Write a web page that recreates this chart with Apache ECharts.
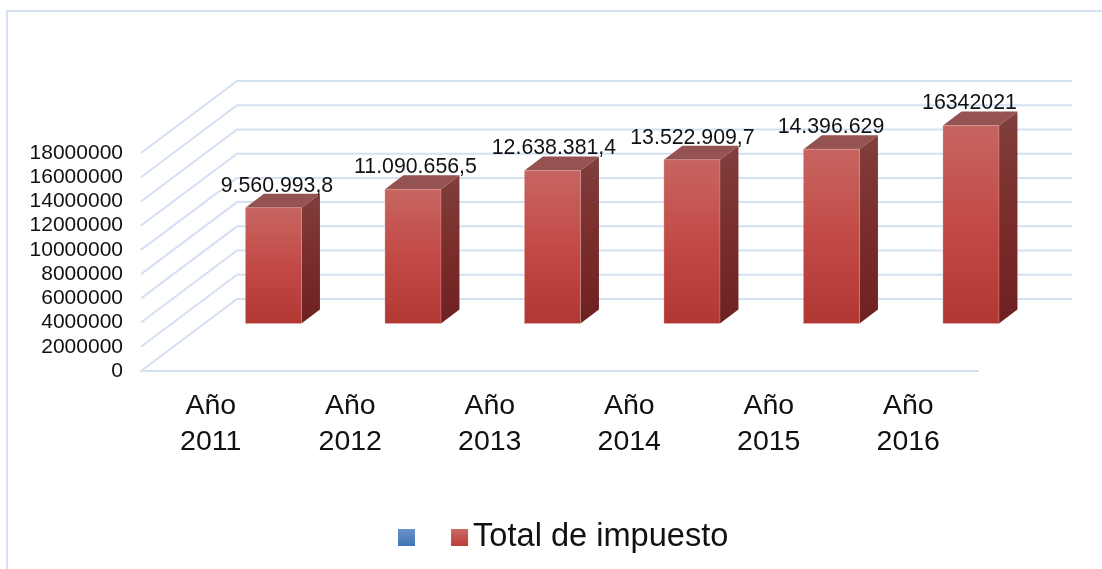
<!DOCTYPE html>
<html><head><meta charset="utf-8">
<style>html,body{margin:0;padding:0;background:#fff}#c{width:1102px;height:569px}</style>
<script src="https://cdn.jsdelivr.net/npm/echarts@6/dist/echarts.min.js"></script>
</head><body><div id="c"></div>
<script>
const categories = ['Año\n2011','Año\n2012','Año\n2013','Año\n2014','Año\n2015','Año\n2016'];
const values = [9560993.8, 11090656.5, 12638381.4, 13522909.7, 14396629, 16342021];
const valueLabels = ['9.560.993,8','11.090.656,5','12.638.381,4','13.522.909,7','14.396.629','16342021'];
const yTicks = [0,2000000,4000000,6000000,8000000,10000000,12000000,14000000,16000000,18000000];
const seriesName = 'Total de impuesto';

const FONT = '"Liberation Sans", Arial, sans-serif';
const GRID = '#d4e1f3';
const WALL_DX = 96, WALL_DY = 72, WALL_RIGHT = 1072;
const BAR_DX = 62.7, BAR_DY = 47.5, BAR_W = 56, SIDE_DX = 18.5, SIDE_DY = 14;
const grad = (a) => new echarts.graphic.LinearGradient(0,0,0,1,a.map((c,i)=>({offset:a.length===1?0:i/(a.length-1),color:c})));

const chart = echarts.init(document.getElementById('c'), null, {renderer:'canvas'});
chart.setOption({
  animation:false,
  backgroundColor:'#fff',
  graphic:[
    {type:'polyline',silent:true,shape:{points:[[7,569],[7,11],[1102,11]]},style:{stroke:GRID,lineWidth:2,fill:null}}
  ],
  grid:{left:141,right:124,top:153,bottom:198,containLabel:false},
  legend:{
    left:393,top:516,icon:'rect',itemWidth:17,itemHeight:17,itemGap:22,
    selectedMode:false,
    textStyle:{fontFamily:FONT,fontSize:32.6,color:'#111'},
    data:[' ',seriesName]
  },
  xAxis:{
    type:'category',data:categories,boundaryGap:true,
    axisTick:{show:false},
    axisLine:{show:true,lineStyle:{color:GRID,width:2}},
    axisLabel:{fontFamily:FONT,fontSize:28.5,lineHeight:36,color:'#111',margin:17,interval:0}
  },
  yAxis:{
    type:'value',min:0,max:18000000,interval:2000000,
    axisLine:{show:false},axisTick:{show:false},splitLine:{show:false},
    axisLabel:{fontFamily:FONT,fontSize:21,color:'#111',margin:18,align:'right',formatter:(v)=>String(v)}
  },
  series:[
    {name:'wall',type:'custom',coordinateSystem:'cartesian2d',silent:true,clip:false,z:1,
     data:yTicks.map(v=>[0,v]),encode:{x:0,y:1},
     renderItem(params,api){
       const p=api.coord([0,api.value(1)]);
       const x0=params.coordSys.x, y=p[1];
       return {type:'polyline',shape:{points:[[x0,y],[x0+WALL_DX,y-WALL_DY],[WALL_RIGHT,y-WALL_DY]]},
         style:{stroke:GRID,lineWidth:2,fill:null}};
     }},
    {name:' ',type:'custom',coordinateSystem:'cartesian2d',data:[],encode:{x:0,y:1},
     itemStyle:{color:grad(['#6a91c9','#3f76b6'])},
     renderItem(){return null;}},
    {name:seriesName,type:'custom',coordinateSystem:'cartesian2d',clip:false,z:2,
     itemStyle:{color:grad(['#c96a66','#bd3c38'])},
     data:values.map((v,i)=>[i,v]),encode:{x:0,y:1},
     renderItem(params,api){
       const i=api.value(0);
       const top=api.coord([i,api.value(1)]), base=api.coord([i,0]);
       const cx=base[0]+BAR_DX, x0=cx-BAR_W/2, x1=cx+BAR_W/2;
       const yb=base[1]-BAR_DY, yt=top[1]-BAR_DY;
       return {type:'group',children:[
         {type:'polygon',shape:{points:[[x1,yt],[x1+SIDE_DX,yt-SIDE_DY],[x1+SIDE_DX,yb-SIDE_DY],[x1,yb]]},
          style:{fill:grad(['#803f3d','#7a2d2a','#6e2121'])}},
         {type:'polygon',shape:{points:[[x0,yt],[x1,yt],[x1+SIDE_DX,yt-SIDE_DY],[x0+SIDE_DX,yt-SIDE_DY]]},
          style:{fill:'#945250'}},
         {type:'rect',shape:{x:x0,y:yt,width:BAR_W,height:yb-yt},
          style:{fill:grad(['#c76561','#c24a46','#b13733']),stroke:'rgba(240,190,190,0.3)',lineWidth:1}},
         {type:'text',style:{text:valueLabels[i],x:cx+3.5-i,y:yt-22,align:'center',verticalAlign:'middle',
           font:'21.3px '+FONT,fill:'#111'},z2:10}
       ]};
     }}
  ]
});
</script></body></html>
